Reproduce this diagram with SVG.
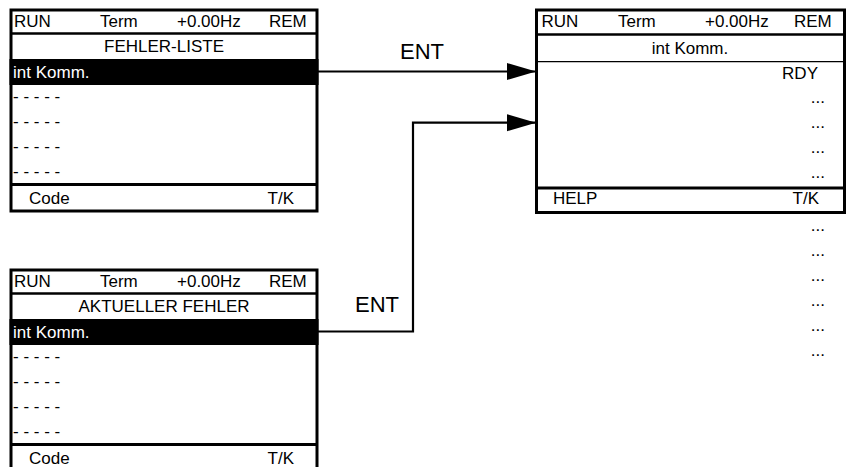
<svg xmlns="http://www.w3.org/2000/svg" width="847" height="467" viewBox="0 0 847 467">
<style>
text{font-family:"Liberation Sans",Arial,sans-serif;font-size:17px;fill:#000}
.w{fill:#fff}
.ent{font-size:22px}
.frame{fill:#fff;stroke:#000;stroke-width:3}
.sep{stroke:#000;stroke-width:2.5}
.thin{stroke:#000;stroke-width:1.3}
.fsep{stroke:#000;stroke-width:3}
.conn{fill:none;stroke:#000;stroke-width:2.2}
.m{text-anchor:middle}
.e{text-anchor:end}
</style>
<defs>
<marker id="arr" markerUnits="userSpaceOnUse" markerWidth="30" markerHeight="18" refX="29" refY="8.5" orient="auto">
<path d="M0,0 L29,8.5 L0,17 z" fill="#000"/>
</marker>
</defs>
<g id="fehler-liste">
<rect class="frame" x="11" y="10" width="306" height="201"/>
<line class="sep" x1="11" y1="33.5" x2="317" y2="33.5"/>
<rect x="9.5" y="59" width="309" height="26" fill="#000"/>
<line class="fsep" x1="11" y1="184.5" x2="317" y2="184.5"/>
<text x="14" y="27">RUN</text>
<text x="100" y="27">Term</text>
<text x="177" y="27">+0.00Hz</text>
<text x="269" y="27">REM</text>
<text class="m" x="164" y="52">FEHLER-LISTE</text>
<text class="w" x="13" y="78">int Komm.</text>
<text x="13" y="102">- - - - -</text>
<text x="13" y="127">- - - - -</text>
<text x="13" y="152">- - - - -</text>
<text x="13" y="177">- - - - -</text>
<text x="29" y="203.5">Code</text>
<text class="e" x="294" y="203.5">T/K</text>
</g>
<g id="aktueller-fehler">
<rect class="frame" x="11" y="270" width="306" height="201"/>
<line class="sep" x1="11" y1="293.5" x2="317" y2="293.5"/>
<rect x="9.5" y="319" width="309" height="26" fill="#000"/>
<line class="fsep" x1="11" y1="444.5" x2="317" y2="444.5"/>
<text x="14" y="287">RUN</text>
<text x="100" y="287">Term</text>
<text x="177" y="287">+0.00Hz</text>
<text x="269" y="287">REM</text>
<text class="m" x="164" y="312">AKTUELLER FEHLER</text>
<text class="w" x="13" y="338">int Komm.</text>
<text x="13" y="362">- - - - -</text>
<text x="13" y="387">- - - - -</text>
<text x="13" y="412">- - - - -</text>
<text x="13" y="437">- - - - -</text>
<text x="29" y="463.5">Code</text>
<text class="e" x="294" y="463.5">T/K</text>
</g>
<g id="int-komm-detail">
<rect class="frame" x="536.5" y="10" width="308" height="202.5"/>
<line class="sep" x1="536.5" y1="34.5" x2="844.5" y2="34.5"/>
<line class="thin" x1="536.5" y1="61.7" x2="844.5" y2="61.7"/>
<line class="fsep" x1="536.5" y1="188" x2="844.5" y2="188"/>
<text x="541.5" y="27">RUN</text>
<text x="618" y="27">Term</text>
<text x="705" y="27">+0.00Hz</text>
<text x="794" y="27">REM</text>
<text class="m" x="690" y="54">int Komm.</text>
<text class="e" x="818" y="79">RDY</text>
<text class="e" x="825" y="103">...</text>
<text class="e" x="825" y="128">...</text>
<text class="e" x="825" y="153">...</text>
<text class="e" x="825" y="178">...</text>
<text x="553" y="204">HELP</text>
<text class="e" x="819" y="204">T/K</text>
</g>
<g id="more-items">
<text class="e" x="825" y="231">...</text>
<text class="e" x="825" y="256">...</text>
<text class="e" x="825" y="281">...</text>
<text class="e" x="825" y="306">...</text>
<text class="e" x="825" y="331">...</text>
<text class="e" x="825" y="356">...</text>
</g>
<g id="connectors">
<path class="conn" d="M318,71.5 H536" marker-end="url(#arr)"/>
<path class="conn" d="M318,331.5 H413 V122.7 H536" marker-end="url(#arr)"/>
<text class="ent" x="400" y="59">ENT</text>
<text class="ent" x="355" y="312">ENT</text>
</g>
</svg>
